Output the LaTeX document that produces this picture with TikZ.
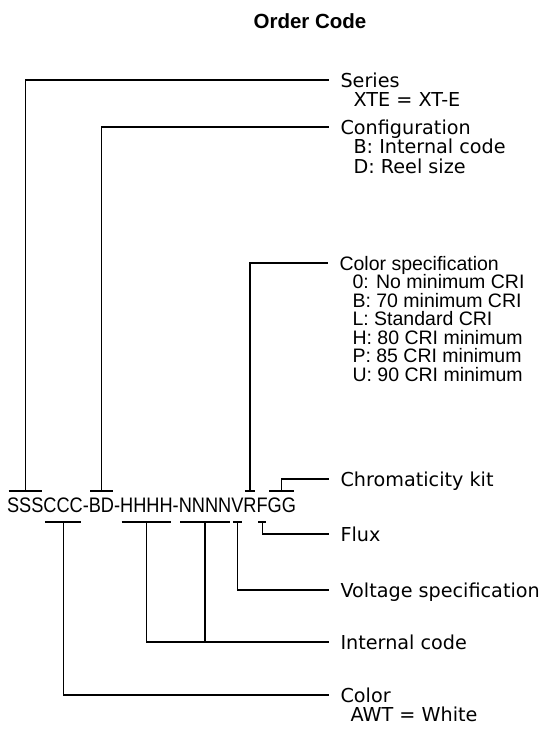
\documentclass[tikz,border=0pt]{standalone}
\usepackage{fontspec}
\setmainfont{DejaVu Sans}
\newfontfamily\codefont[FakeStretch=0.866]{Liberation Sans}
\newfontfamily\specfont{Liberation Sans}
\usetikzlibrary{calc,positioning}

\tikzset{
	code/.style={inner sep=0pt, outer sep=0pt, anchor=base west, text height=15pt, text depth=0pt, font=\codefont\fontsize{21}{21}\selectfont},
	lbl/.style={inner sep=0pt, anchor=west, text height=14pt, text depth=0pt, font=\fontsize{19.2}{19.5}\selectfont},
	sublbl/.style={inner sep=0pt, anchor=base west, font=\fontsize{19.2}{19.5}\selectfont},
	speclbl/.style={inner sep=0pt, anchor=west, text height=14pt, text depth=0pt, font=\specfont\fontsize{19.5}{19.5}\selectfont},
	subspec/.style={inner sep=0pt, anchor=base west, font=\specfont\fontsize{19.5}{19.5}\selectfont},
	heading/.style={inner sep=0pt, anchor=base, font=\specfont\bfseries\fontsize{20.5}{20.5}\selectfont},
	lead/.style={shorten >=11pt}
}

\begin{document}
\begin{tikzpicture}[x=1pt, y=-1pt, line width=1.1pt]
		%%%%% FRAME %%%%%
		\useasboundingbox (0,0) rectangle (543,734);
		
		\node[heading] (title) at (310,28) {Order Code};
		
		%%%%% CODE STRING %%%%%
		\node[code] (sss) at (7,512) {SSS};
		\node[code] (ccc) at (sss.base east) {CCC};
		\node[code] (d1) at (ccc.base east) {-};
		\node[code] (bd) at (d1.base east) {BD};
		\node[code] (d2) at (bd.base east) {-};
		\node[code] (hhhh) at (d2.base east) {HHHH};
		\node[code] (d3) at (hhhh.base east) {-};
		\node[code] (nnnn) at (d3.base east) {NNNN};
		\node[code] (v) at (nnnn.base east) {V};
		\node[code] (r) at (v.base east) {R};
		\node[code] (f) at (r.base east) {F};
		\node[code] (gg) at (f.base east) {GG};
		
		%%%%% LABELS %%%%%
		\node[lbl] (series) at (340,80) {Series};
		\node[sublbl] (seriesd) at ([xshift=13pt, yshift=-19.5pt]series.base west) {XTE = XT-E};
		
		\node[lbl] (config) at (340,127) {Configuration};
		\node[sublbl] (configb) at ([xshift=13pt, yshift=-19.5pt]config.base west) {B: Internal code};
		\node[sublbl] (configd) at ([yshift=-19.5pt]configb.base west) {D: Reel size};
		
		\node[speclbl] (colspec) at (339,263) {Color specification};
		\foreach \t [count=\i] in {0: No minimum CRI, B: 70 minimum CRI, L: Standard CRI, H: 80 CRI minimum, P: 85 CRI minimum, U: 90 CRI minimum}
			\node[subspec] (colspec\i) at ([xshift=13pt, yshift=-18.5*\i pt]colspec.base west) {\t};
		
		\node[lbl] (chroma) at (340,479) {Chromaticity kit};
		\node[lbl] (flux) at (340,534) {Flux};
		\node[lbl] (volt) at (340,590) {Voltage specification};
		\node[lbl] (intcode) at (340,642) {Internal code};
		\node[lbl] (color) at (340,695) {Color};
		\node[sublbl] (colord) at ([xshift=10pt, yshift=-19.5pt]color.base west) {AWT = White};
		
		%%%%% TEES %%%%%
		\foreach \g in {sss,bd,r,gg}{
			\coordinate (\g-t) at ([yshift=6pt]\g.north);
			\draw ([xshift=1.5pt, yshift=6pt]\g.north west) -- ([xshift=-1.5pt, yshift=6pt]\g.north east);
		}
		\foreach \g in {ccc,hhhh,nnnn,v,f}{
			\coordinate (\g-b) at ([yshift=-10pt]\g.south);
			\draw ([xshift=1.5pt, yshift=-10pt]\g.south west) -- ([xshift=-1.5pt, yshift=-10pt]\g.south east);
		}
		
		%%%%% LEADERS %%%%%
		\draw[lead] (sss-t) |- (series.west);
		\draw[lead] (bd-t) |- (config.west);
		\draw[lead] (r-t) |- (colspec.west);
		\draw[lead] (gg-t) |- (chroma.west);
		\draw[lead] (f-b) |- (flux.west);
		\draw[lead] (v-b) |- (volt.west);
		\draw[lead] (hhhh-b) |- (intcode.west);
		\draw (nnnn-b) -- (nnnn-b |- intcode.west);
		\draw[lead] (ccc-b) |- (color.west);
		
	\end{tikzpicture}
\end{document}
